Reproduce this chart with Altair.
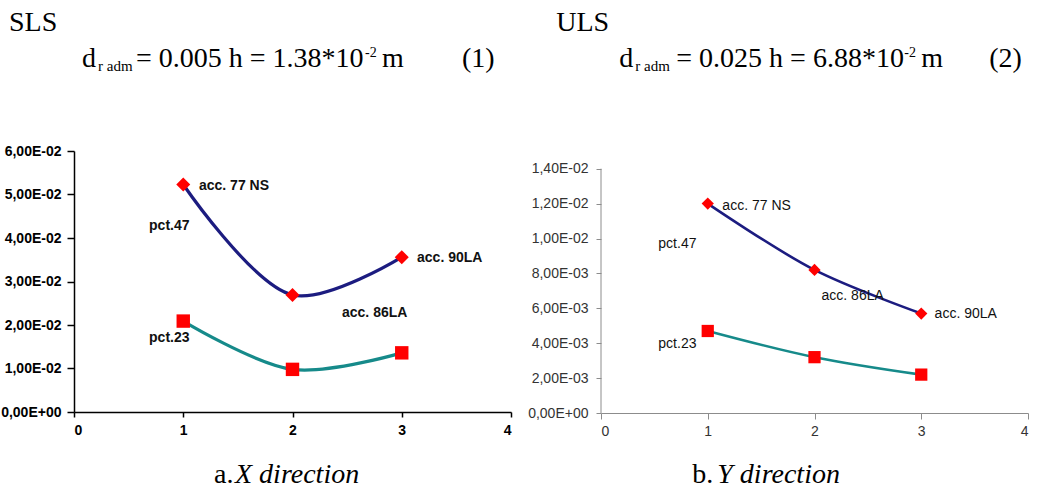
import altair as alt
import pandas as pd

# ---------------- data ----------------
x_vals = [1, 2, 3]
series_names = ["pct.47", "pct.23"]

left_pct47 = [0.0523, 0.0269, 0.0356]
left_pct23 = [0.0209, 0.0098, 0.0136]
right_pct47 = [0.0120, 0.0082, 0.0057]
right_pct23 = [0.0047, 0.0032, 0.0022]

x_ticks = [0, 1, 2, 3, 4]
left_ticks = [0, 0.01, 0.02, 0.03, 0.04, 0.05, 0.06]
left_tick_labels = ["0,00E+00", "1,00E-02", "2,00E-02", "3,00E-02",
                    "4,00E-02", "5,00E-02", "6,00E-02"]
right_ticks = [0, 0.002, 0.004, 0.006, 0.008, 0.010, 0.012, 0.014]
right_tick_labels = ["0,00E+00", "2,00E-03", "4,00E-03", "6,00E-03",
                     "8,00E-03", "1,00E-02", "1,20E-02", "1,40E-02"]

left_label_text = ["acc. 77 NS", "pct.47", "acc. 90LA", "acc. 86LA", "pct.23"]
left_label_x = [1.144, 0.687, 3.14, 2.453, 0.687]
left_label_y = [0.0520, 0.0428, 0.0354, 0.0228, 0.0170]

right_label_text = ["acc. 77 NS", "pct.47", "acc. 86LA", "acc. 90LA", "pct.23"]
right_label_x = [1.137, 0.537, 2.066, 3.125, 0.537]
right_label_y = [0.01188, 0.0097, 0.00672, 0.00569, 0.00397]

NAVY = "#1c1c80"
TEAL = "#168a8a"
RED = "#ff0000"
SERIF = "Liberation Serif"
SANS = "Liberation Sans"

one = pd.DataFrame({"a": [0]})


def txt(s, x, y, size, style="normal"):
    return alt.Chart(one).mark_text(
        text=s, font=SERIF, fontSize=size, fontStyle=style,
        align="left", baseline="alphabetic", color="black"
    ).encode(x=alt.value(x), y=alt.value(y))


def label_expr(labels, step):
    arr = "[" + ",".join("'" + l + "'" for l in labels) + "]"
    return arr + "[round(datum.value/" + str(step) + ")]"


def panel(s47, s23, ticks, tick_labels, step, ymax, lab_t, lab_x, lab_y,
          W, H, axis_style, line_w, sizes, lab_weight, texts, manual_domain=None):
    df = pd.DataFrame({
        "x": x_vals * 2,
        "y": s47 + s23,
        "series": [series_names[0]] * 3 + [series_names[1]] * 3,
    })
    xscale = alt.Scale(domain=[0, 4], nice=False, zero=False)
    yscale = alt.Scale(domain=[0, ymax], nice=False)
    xaxis = alt.Axis(values=x_ticks, format="d", title=None, grid=False,
                     labelOverlap=False, **axis_style["x"])
    yaxis = alt.Axis(values=ticks, labelExpr=label_expr(tick_labels, step),
                     title=None, grid=False, labelOverlap=False, **axis_style["y"])

    def X(f="x"):
        return alt.X(f + ":Q", scale=xscale, axis=xaxis)

    def Y(f="y"):
        return alt.Y(f + ":Q", scale=yscale, axis=yaxis)

    base = alt.Chart(df)
    extra = []
    if manual_domain is not None:
        ddf = pd.DataFrame({"x": [0], "y": [ticks[0]], "y2": [ticks[-1]]})
        extra.append(alt.Chart(ddf).mark_rule(color=manual_domain, strokeWidth=1).encode(
            x=X(), y=Y(), y2="y2:Q"))
    line = base.mark_line(interpolate="catmull-rom", strokeWidth=line_w).encode(
        x=X(), y=Y(),
        color=alt.Color("series:N", scale=alt.Scale(domain=series_names,
                                                   range=[NAVY, TEAL]), legend=None),
    )
    dia = base.transform_filter(alt.datum.series == series_names[0]).mark_point(
        shape="diamond", filled=True, color=RED, opacity=1, size=sizes[0]
    ).encode(x=X(), y=Y())
    sq = base.transform_filter(alt.datum.series == series_names[1]).mark_point(
        shape="square", filled=True, color=RED, opacity=1, size=sizes[1]
    ).encode(x=X(), y=Y())
    labdf = pd.DataFrame({"t": lab_t, "x": lab_x, "y": lab_y})
    labs = alt.Chart(labdf).mark_text(
        align="left", baseline="middle", font=SANS, fontSize=14,
        fontWeight=lab_weight, color="#111111"
    ).encode(x=X(), y=Y(), text="t:N")
    layers = [line] + extra + [dia, sq, labs] + [txt(*t) for t in texts]
    return alt.layer(*layers).properties(width=W, height=H)


left_axis = {
    "x": dict(domainColor="black", domainWidth=1.5, tickColor="black", tickWidth=1.5,
              tickSize=5, labelPadding=6, labelFont=SANS, labelFontSize=14,
              labelFontWeight="bold", labelColor="black"),
    "y": dict(domainColor="black", domainWidth=1.5, tickColor="black", tickWidth=1.5,
              tickSize=7, labelPadding=6, labelFont=SANS, labelFontSize=14,
              labelFontWeight="bold", labelColor="black"),
}
right_axis = {
    "x": dict(domainColor="#8c8c8c", tickColor="#8c8c8c", tickSize=6, labelPadding=5,
              labelFont=SANS, labelFontSize=14, labelColor="#333333"),
    "y": dict(domain=False, tickColor="#8c8c8c", tickSize=5, labelPadding=8,
              labelFont=SANS, labelFontSize=14, labelColor="#333333"),
}

F = 28
S = 15
left_texts = [
    ("SLS", -65, -120, F),
    ("d", 8, -84, F),
    ("r adm", 24, -80, S),
    ("= 0.005 h = 1.38*10", 62, -84, F),
    ("-2", 291, -94, 14),
    ("m", 308, -84, F),
    ("(1)", 388, -84, F),
    ("a.", 140, 332, F),
    ("X direction", 161, 332, F, "italic"),
]
right_texts = [
    ("ULS", -44.7, -120, F),
    ("d", 18.3, -84, F),
    ("r adm", 34.3, -80, S),
    ("= 0.025 h = 6.88*10", 75.3, -84, F),
    ("-2", 303.3, -94, 14),
    ("m", 320.3, -84, F),
    ("(2)", 388.3, -84, F),
    ("b.", 91.3, 332, F),
    ("Y direction", 116.3, 332, F, "italic"),
]

# right panel: plot top aligned with the left one; 0.014 sits 18 px lower
right_h = 262
right_ymax = 0.014 * 262 / 244.3

left = panel(left_pct47, left_pct23, left_ticks, left_tick_labels, 0.01, 0.06,
             left_label_text, left_label_x, left_label_y,
             437, 261, left_axis, 3.2, (196, 180), "bold", left_texts)
right = panel(right_pct47, right_pct23, right_ticks, right_tick_labels, 0.002, right_ymax,
              right_label_text, right_label_x, right_label_y,
              427, right_h, right_axis, 2.6, (150, 150), "normal", right_texts,
              manual_domain="#8c8c8c")

chart = alt.hconcat(left, right, spacing=15).properties(
    padding={"left": 0, "top": 9, "right": 0, "bottom": 0},
    background="white",
).configure_view(stroke=None).configure_axis(labelOverlap=False)

chart.save("out.html", embed_options={"renderer": "svg", "actions": False})
